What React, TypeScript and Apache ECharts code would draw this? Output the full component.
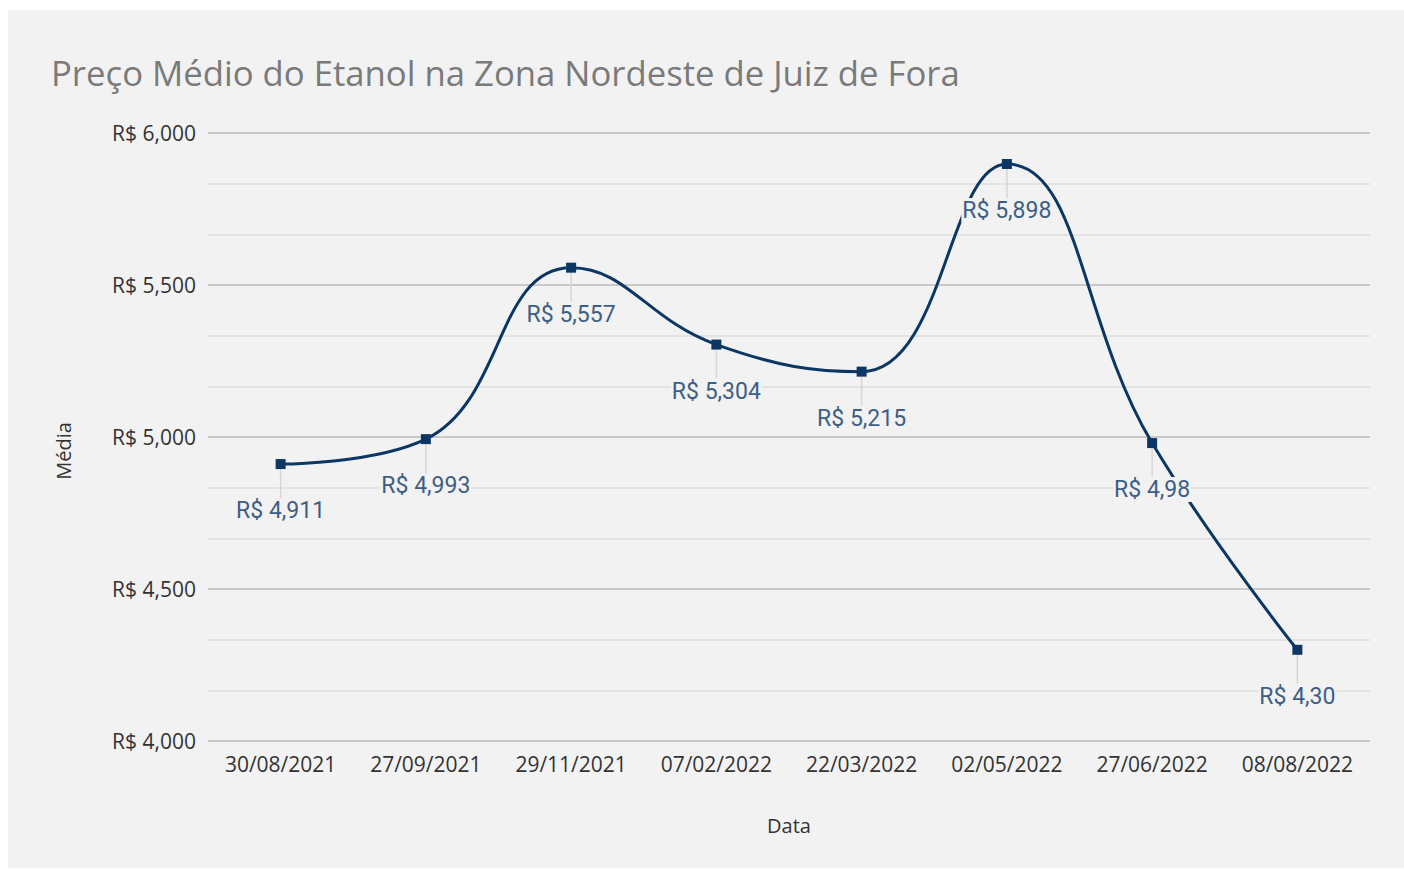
import React, { useEffect, useRef } from "react";
import * as echarts from "echarts";

const categories = ["30/08/2021", "27/09/2021", "29/11/2021", "07/02/2022", "22/03/2022", "02/05/2022", "27/06/2022", "08/08/2022"];
const values = [4911, 4993, 5557, 5304, 5215, 5898, 4980, 4300];
const labels = ["R$ 4,911", "R$ 4,993", "R$ 5,557", "R$ 5,304", "R$ 5,215", "R$ 5,898", "R$ 4,98", "R$ 4,30"];
const yTicks = [4000, 4500, 5000, 5500, 6000];

export default function App() {
  const ref = useRef<HTMLDivElement>(null);
  useEffect(() => {
    if (!ref.current) return;
    const chart = echarts.init(ref.current, undefined, { renderer: "svg" });
    chart.setOption({
      animation: false,
      backgroundColor: "#f2f2f2",
      title: {
        text: "Preço Médio do Etanol na Zona Nordeste de Juiz de Fora",
        left: 38,
        top: 40,
        textStyle: { fontFamily: "Open Sans", fontSize: 34.7, fontWeight: "normal", color: "#7a7a7a" },
      },
      grid: { left: 200, right: 34, top: 123, bottom: 127, containLabel: false },
      xAxis: {
        type: "category",
        data: categories,
        boundaryGap: true,
        name: "Data",
        nameLocation: "middle",
        nameGap: 74,
        nameTextStyle: { fontFamily: "Open Sans", fontSize: 20, color: "#333" },
        axisLine: { show: false },
        axisTick: { show: false },
        axisLabel: { fontFamily: "Open Sans", fontSize: 21, color: "#333", margin: 12 },
      },
      yAxis: {
        type: "value",
        min: yTicks[0],
        max: yTicks[yTicks.length - 1],
        interval: 500,
        name: "Média",
        nameLocation: "middle",
        nameGap: 135,
        nameRotate: 90,
        nameTextStyle: { fontFamily: "Open Sans", fontSize: 20, color: "#333", padding: [0, 28, 0, 0] },
        axisLine: { show: false },
        axisTick: { show: false },
        axisLabel: {
          fontFamily: "Open Sans",
          fontSize: 21,
          color: "#333",
          margin: 12,
          formatter: (v: number) => "R$ " + v.toLocaleString("en-US"),
        },
        splitLine: { show: true, lineStyle: { color: "#c9c9c9", width: 2 } },
        minorTick: { show: false, splitNumber: 3 },
        minorSplitLine: { show: true, lineStyle: { color: "#dedede", width: 1.5 } },
      },
      series: [
        {
          type: "custom",
          z: 1,
          silent: true,
          data: values.map((v, i) => [i, v]),
          renderItem: (params: any, api: any) => {
            const p = api.coord([api.value(0), api.value(1)]);
            return {
              type: "line",
              shape: { x1: p[0], y1: p[1] + 5, x2: p[0], y2: p[1] + 36 },
              style: { stroke: "#d6d6d6", lineWidth: 1.5 },
            };
          },
        },
        {
          type: "line",
          z: 3,
          data: values,
          smooth: 0.45,
          symbol: "rect",
          symbolSize: 10,
          lineStyle: { color: "#0c3765", width: 3 },
          itemStyle: { color: "#0c3765" },
          label: {
            show: true,
            position: "bottom",
            distance: 29,
            fontFamily: "Roboto",
            fontSize: 23,
            color: "#3d5f86",
            backgroundColor: "#f2f2f2",
            padding: [1, 1],
            formatter: (p: any) => labels[p.dataIndex],
          },
        },
      ],
    });
    return () => chart.dispose();
  }, []);
  return <div ref={ref} style={{ position: "absolute", left: 8, top: 10, width: 1396, height: 858 }} />;
}
